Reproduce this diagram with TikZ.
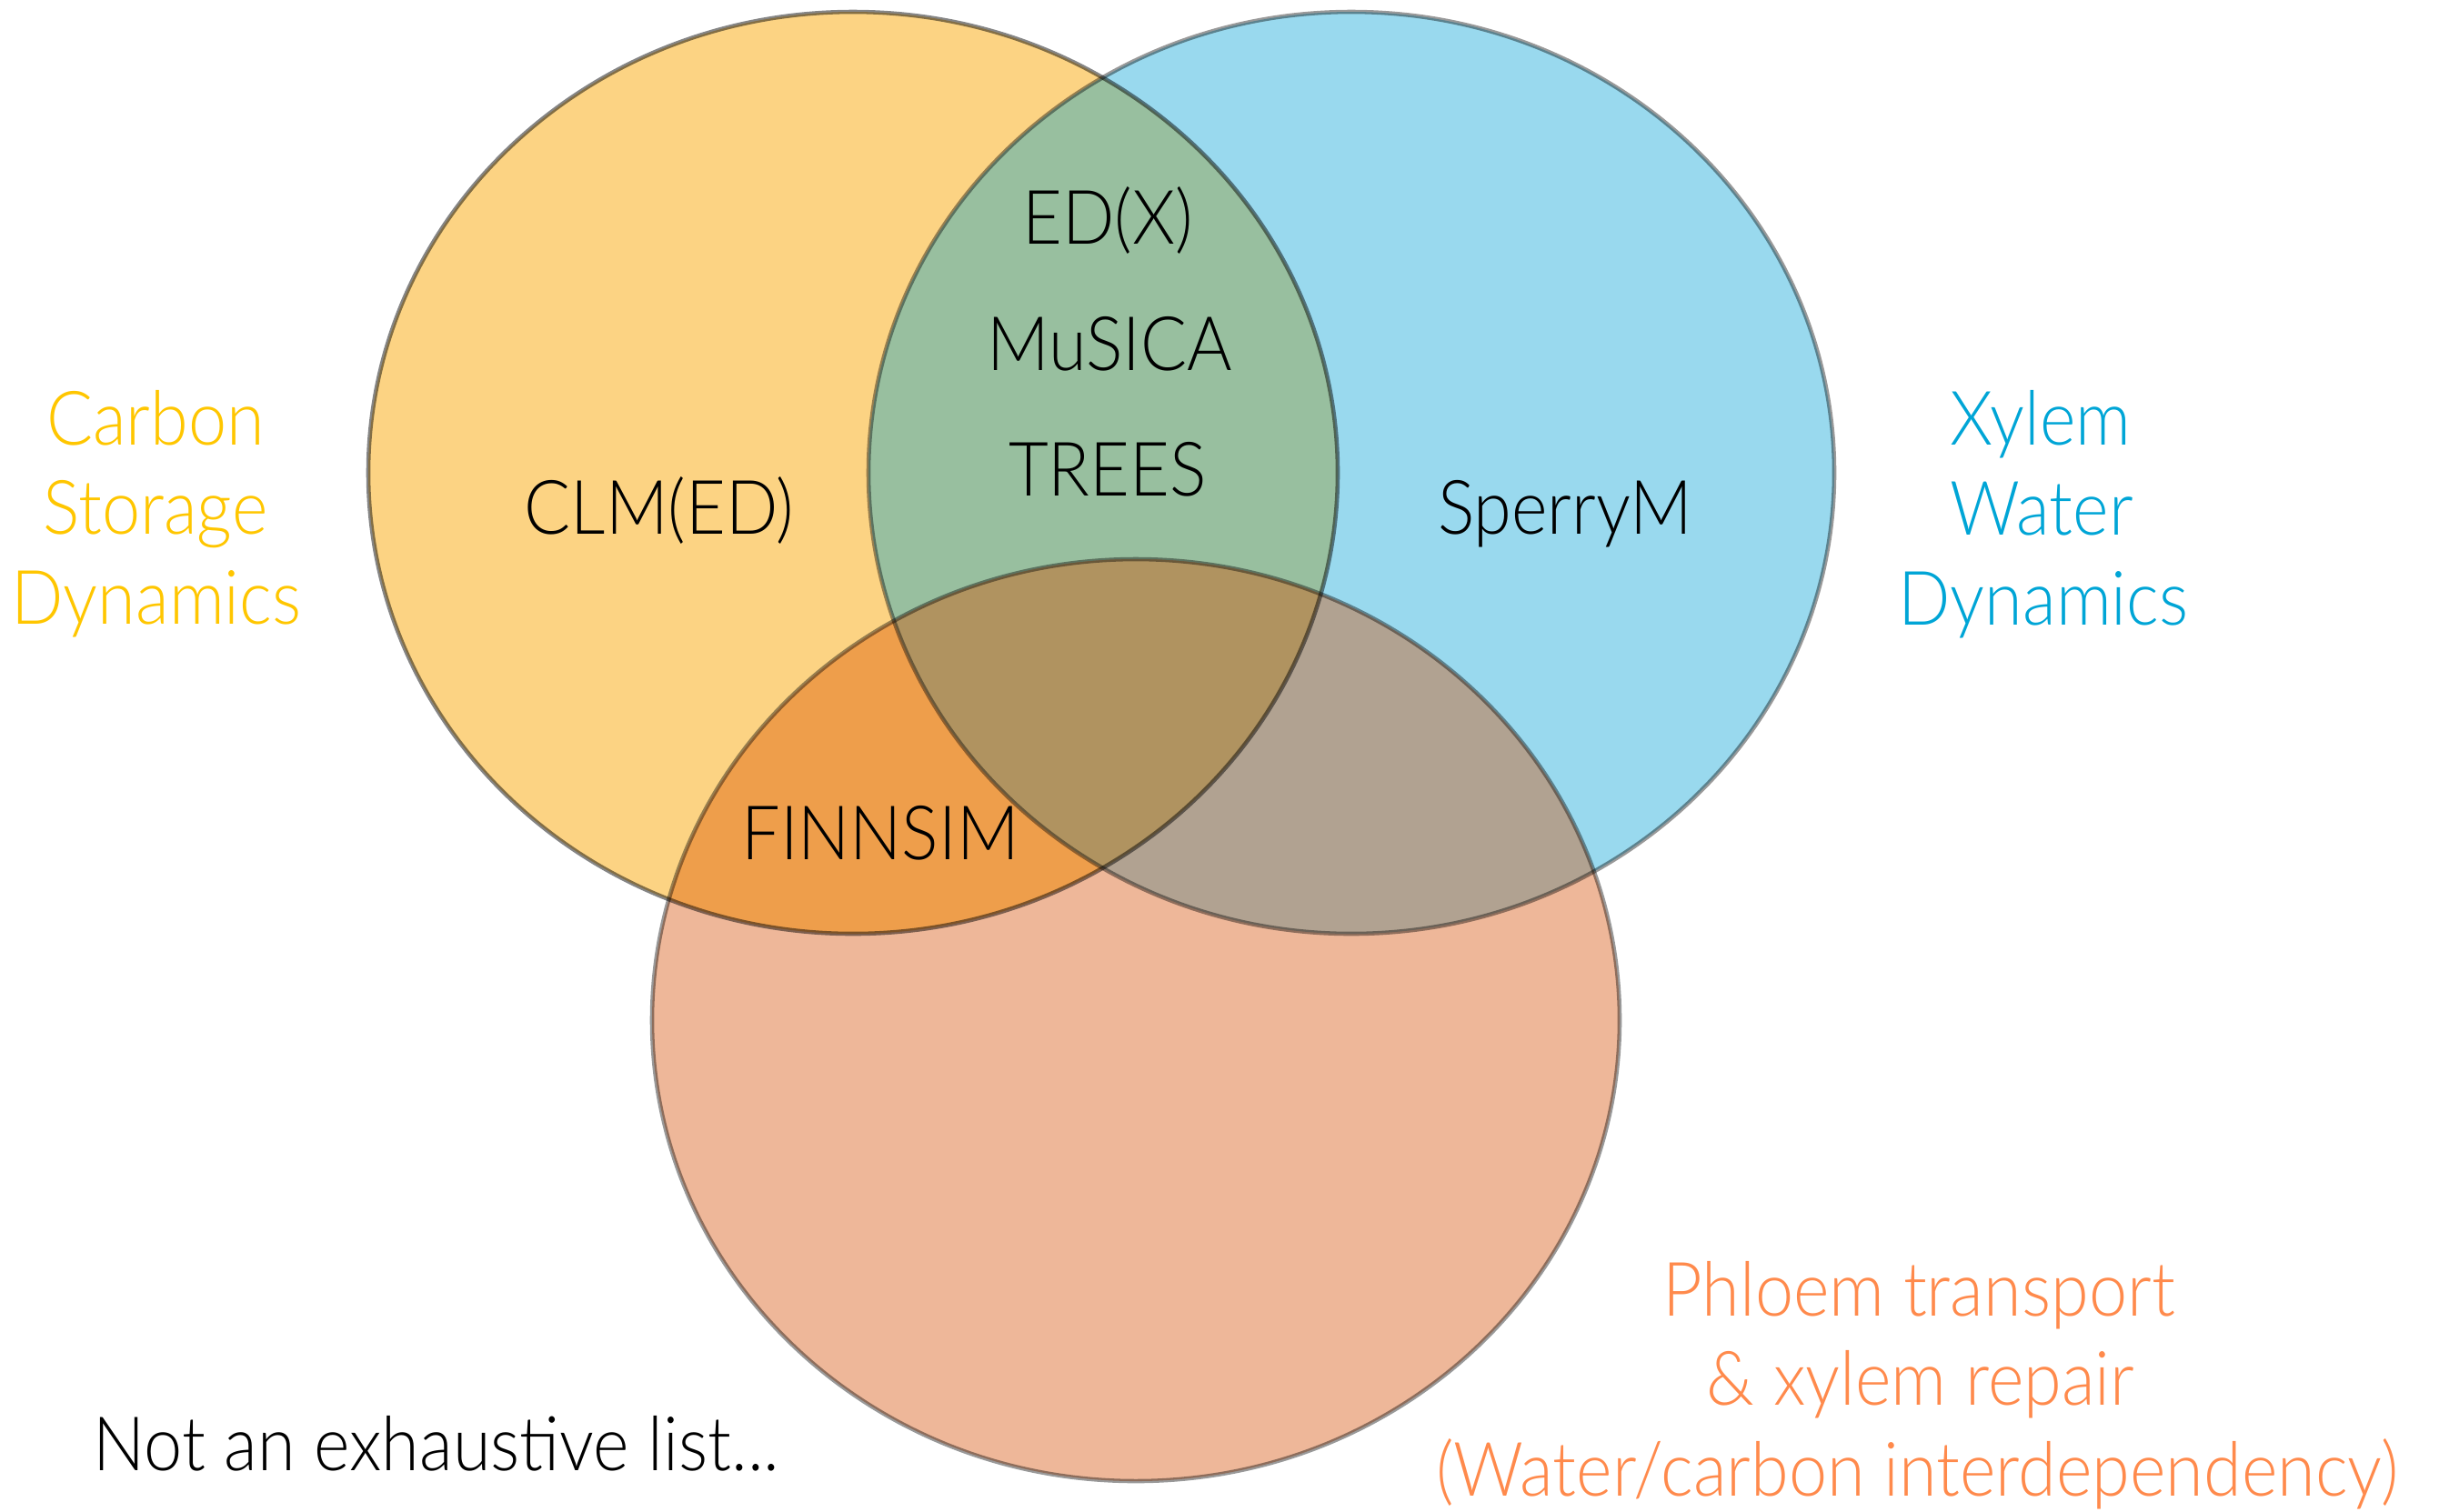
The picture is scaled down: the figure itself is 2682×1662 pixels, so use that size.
\documentclass[tikz,border=0pt]{standalone}
\usepackage{fontspec}
\setmainfont{Lato Light}
\definecolor{cY}{HTML}{FCD383}
\definecolor{cB}{HTML}{99D9EE}
\definecolor{cO}{HTML}{EEB799}
\definecolor{cYB}{HTML}{98BF9F}
\definecolor{cYO}{HTML}{EE9E4B}
\definecolor{cBO}{HTML}{B1A291}
\definecolor{cYBO}{HTML}{B09360}
\definecolor{tY}{HTML}{FFC600}
\definecolor{tB}{HTML}{00A5D6}
\definecolor{tO}{HTML}{FF8A4C}
% slightly condensed lettering
\newcommand\narrowtext[1]{\scalebox{0.915}[1]{#1}}
\begin{document}
\begin{tikzpicture}[x=0.01cm,y=-0.01cm,
  lbl/.style={inner sep=0pt,anchor=base,font=\fontsize{23.5}{28}\selectfont},
  rim/.style={draw=black,line width=1.3pt}]
\useasboundingbox (0,0) rectangle (2682,1662);
% the three sets
\def\ellY{(938,520) ellipse [x radius=533,y radius=507]}
\def\ellB{(1486,520) ellipse [x radius=531,y radius=507]}
\def\ellO{(1249,1122) ellipse [x radius=532,y radius=507]}
% plain areas
\fill[cY] \ellY;
\fill[cB] \ellB;
\fill[cO] \ellO;
% pairwise overlaps
\begin{scope}\clip \ellY; \fill[cYB] \ellB; \end{scope}
\begin{scope}\clip \ellY; \fill[cYO] \ellO; \end{scope}
\begin{scope}\clip \ellB; \fill[cBO] \ellO; \end{scope}
% common core
\begin{scope}\clip \ellY; \clip \ellB; \fill[cYBO] \ellO; \end{scope}
% outlines
\draw[rim,draw opacity=0.48] \ellY;
\draw[rim,draw opacity=0.40] \ellB;
\draw[rim,draw opacity=0.40] \ellO;
% set titles
\node[lbl,text=tY] (c1) at (171,489) {\narrowtext{Carbon}};
\node[lbl,text=tY] (c2) at (171,587) {\narrowtext{Storage}};
\node[lbl,text=tY] (c3) at (172,686) {\narrowtext{Dynamics}};
\node[lbl,text=tB] (x1) at (2244,489) {\narrowtext{Xylem}};
\node[lbl,text=tB] (x2) at (2245,588) {\narrowtext{Water}};
\node[lbl,text=tB] (x3) at (2247,687) {\narrowtext{Dynamics}};
\node[lbl,text=tO] (p1) at (2110,1447) {\narrowtext{Phloem transport}};
\node[lbl,text=tO] (p2) at (2112,1545) {\narrowtext{\& xylem repair}};
\node[lbl,text=tO] (p3) at (2108,1645) {\narrowtext{(Water/carbon interdependency)}};
% models
\node[lbl] (edx) at (1218,268) {\narrowtext{ED(X)}};
\node[lbl] (musica) at (1220,407) {\narrowtext{MuSICA}};
\node[lbl] (trees) at (1218,545) {\narrowtext{TREES}};
\node[lbl] (clm) at (725,587) {\narrowtext{CLM(ED)}};
\node[lbl] (sperry) at (1721,587) {\narrowtext{SperryM}};
\node[lbl] (finn) at (968,945) {\narrowtext{FINNSIM}};
\node[lbl,anchor=base west] (note) at (102,1617) {\narrowtext{Not an exhaustive list...}};
\end{tikzpicture}
\end{document}
